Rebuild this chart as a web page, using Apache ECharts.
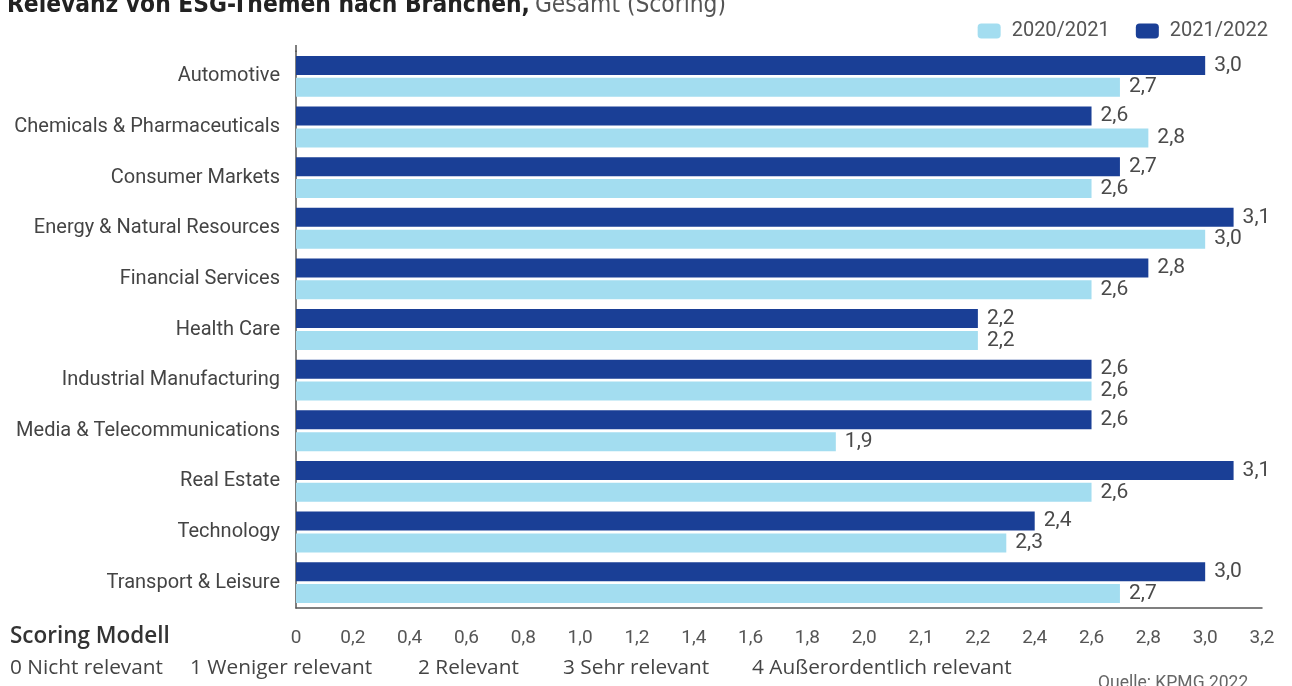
<!DOCTYPE html>
<html><head><meta charset="utf-8">
<script src="https://cdn.jsdelivr.net/npm/echarts@6/dist/echarts.min.js"></script>
<style>html,body{margin:0;padding:0;background:#fff}#c{width:1292px;height:686px}</style>
</head><body><div id="c"></div>
<script>
const categories = ['Automotive','Chemicals & Pharmaceuticals','Consumer Markets','Energy & Natural Resources','Financial Services','Health Care','Industrial Manufacturing','Media & Telecommunications','Real Estate','Technology','Transport & Leisure'];
const values2021 = [2.7, 2.8, 2.6, 3.0, 2.6, 2.2, 2.6, 1.9, 2.6, 2.3, 2.7]; // 2020/2021
const values2022 = [3.0, 2.6, 2.7, 3.1, 2.8, 2.2, 2.6, 2.6, 3.1, 2.4, 3.0]; // 2021/2022
const tickLabels = ['0','0,2','0,4','0,6','0,8','1,0','1,2','1,4','1,6','1,8','2,0','2,1','2,2','2,4','2,6','2,8','3,0','3,2'];
const seriesNames = ['2020/2021','2021/2022'];
const scoringLabels = ['0 Nicht relevant','1 Weniger relevant','2 Relevant','3 Sehr relevant','4 Außerordentlich relevant'];

// The reference axis is spaced evenly by its tick labels (not linearly); map values through those ticks.
const tickValues = tickLabels.map(s => parseFloat(s.replace(',', '.')));
function toAxis(v){
  for (let i = 0; i < tickValues.length - 1; i++){
    const a = tickValues[i], b = tickValues[i+1];
    if (v >= a && v <= b) return i + (v - a) / (b - a);
  }
  return tickValues.length - 1;
}
const fmt = v => v.toFixed(1).replace('.', ',');

const FONT = 'Roboto';
const BFONT = "'Open Sans', Roboto, sans-serif";
const TFONT = "'DejaVu Sans Condensed', Roboto, sans-serif";
const chart = echarts.init(document.getElementById('c'), null, {renderer:'canvas'});
const labelStyle = {show:true, position:'right', distance:9, fontFamily:FONT, fontSize:21, color:'#4a4a4a'};
const rowStyle = {fontFamily:BFONT, fontWeight:'normal', fontSize:20.8, color:'#444'};
chart.setOption({
  animation:false,
  title:[
    {left:2, top:-11, text:'{b|Relevanz von ESG-Themen nach Branchen,} {r|Gesamt (Scoring)}',
     textStyle:{rich:{b:{fontFamily:TFONT, fontWeight:'bold', fontSize:24.3, color:'#222'},
                      r:{fontFamily:TFONT, fontWeight:'normal', fontSize:24.3, color:'#555'}}}},
    {left:5, top:620, text:'Scoring Modell', textStyle:{fontFamily:BFONT, fontWeight:600, fontSize:22.5, color:'#333'}},
    {left:5, top:653, text:scoringLabels[0], textStyle:rowStyle},
    {left:185, top:653, text:scoringLabels[1], textStyle:rowStyle},
    {left:413, top:653, text:scoringLabels[2], textStyle:rowStyle},
    {left:558, top:653, text:scoringLabels[3], textStyle:rowStyle},
    {left:747, top:653, text:scoringLabels[4], textStyle:rowStyle},
    {left:1093, top:670, text:'Quelle: KPMG 2022', textStyle:{fontFamily:FONT, fontWeight:'normal', fontSize:17.5, color:'#666'}}
  ],
  legend:{right:19, top:16, itemWidth:23, itemHeight:15, itemGap:26,
    data:seriesNames, textStyle:{fontFamily:FONT, fontSize:20, color:'#555', padding:[0,0,0,6]}},
  grid:{left:296, right:30, top:51, bottom:78, containLabel:false},
  xAxis:{type:'value', min:0, max:tickLabels.length-1, interval:1,
    axisLine:{show:true, lineStyle:{color:'#555', width:1.5}}, axisTick:{show:false}, splitLine:{show:false},
    axisLabel:{margin:21, fontFamily:FONT, fontSize:19, color:'#555', formatter:v => tickLabels[v] ?? ''}},
  yAxis:{type:'category', inverse:true, data:categories,
    axisLine:{show:true, lineStyle:{color:'#555', width:1.5}}, axisTick:{show:false},
    axisLabel:{margin:16, fontFamily:FONT, fontSize:20, color:'#444'}},
  graphic:[{type:'line', shape:{x1:296, y1:45, x2:296, y2:52}, style:{stroke:'#555', lineWidth:1.5}}],
  series:[
    {name:seriesNames[1], type:'bar', barWidth:19, barGap:'15%', itemStyle:{color:'#1a3f96'},
     data:values2022.map(toAxis), label:Object.assign({formatter:p => fmt(values2022[p.dataIndex])}, labelStyle)},
    {name:seriesNames[0], type:'bar', barWidth:19, barGap:'15%', itemStyle:{color:'#a3ddf0'},
     data:values2021.map(toAxis), label:Object.assign({formatter:p => fmt(values2021[p.dataIndex])}, labelStyle)}
  ]
});
</script></body></html>
